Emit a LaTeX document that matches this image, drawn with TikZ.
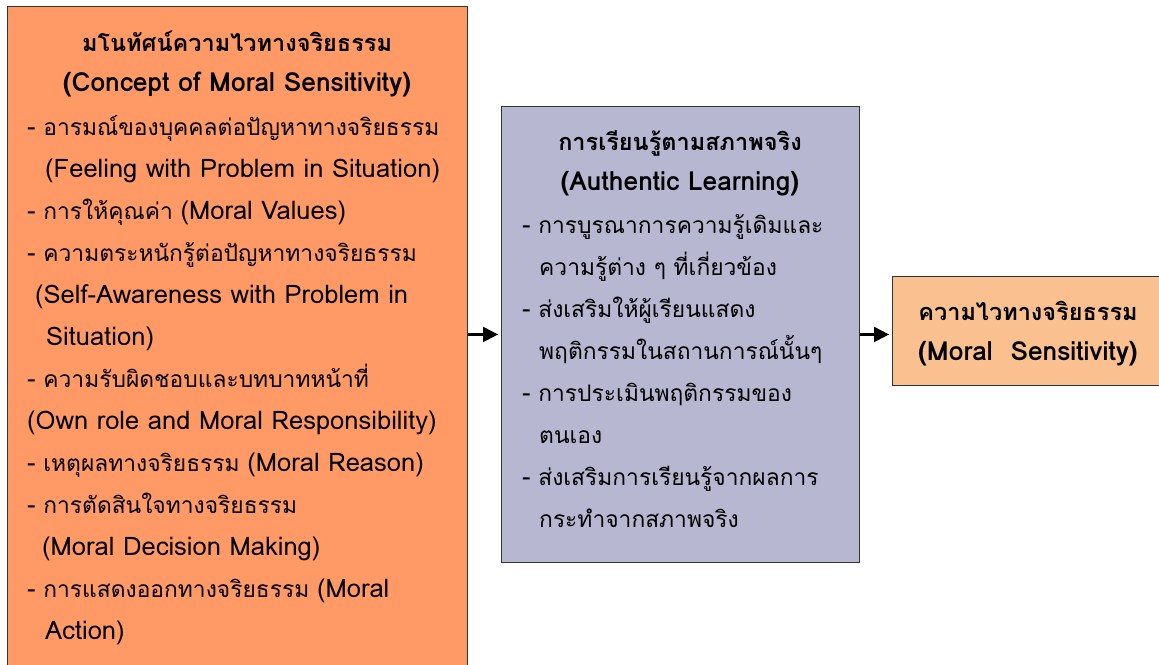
\documentclass[tikz,border=0pt]{standalone}
\usepackage{fontspec}
\setmainfont[Script=Thai]{Loma}
\newfontfamily\enfont[Scale=1.12]{Loma}
\newcommand\en[1]{{\enfont #1}}
\usetikzlibrary{positioning,arrows.meta}
\definecolor{conceptfill}{RGB}{255,153,102}
\definecolor{learnfill}{RGB}{184,183,209}
\definecolor{resultfill}{RGB}{250,192,143}
\tikzset{
  box/.style={draw=black!80, line width=0.9pt, rectangle, inner sep=0pt},
  head/.style={font=\bfseries\fontsize{23.5}{40}\selectfont, align=center, inner sep=0pt},
  body/.style={font=\fontsize{22.8}{42}\selectfont, align=left, inner sep=0pt},
  link/.style={-{Triangle[length=15pt,width=15pt]}, line width=2.2pt, shorten >=3pt}
}
\begin{document}
\begin{tikzpicture}[x=1pt, y=-1pt]
\useasboundingbox (0,0) rectangle (1159,664);
% boxes
\node[box, fill=conceptfill, minimum width=460pt, minimum height=680pt, anchor=north west] (concept) at (7,6) {};
\node[box, fill=learnfill, minimum width=358pt, minimum height=456pt, anchor=north west] (learn) at (501,106) {};
\node[box, fill=resultfill, minimum width=275pt, minimum height=109pt, anchor=north west] (result) at (892,276) {};
% texts (base anchor = last line)
\node[head, anchor=base] (concepthead) at (237,91) {มโนทัศน์ความไวทางจริยธรรม\\\en{(Concept of Moral Sensitivity)}};
\node[body, anchor=base west] (conceptbody) at (27,639) {%
\en{-} อารมณ์ของบุคคลต่อปัญหาทางจริยธรรม\\
\hspace*{18pt}\en{(Feeling with Problem in Situation)}\\
\en{-} การให้คุณค่า \en{(Moral Values)}\\
\en{-} ความตระหนักรู้ต่อปัญหาทางจริยธรรม\\
\hspace*{8pt}\en{(Self-Awareness with Problem in}\\
\hspace*{19pt}\en{Situation)}\\
\en{-} ความรับผิดชอบและบทบาทหน้าที่\\
\en{(Own role and Moral Responsibility)}\\
\en{-} เหตุผลทางจริยธรรม \en{(Moral Reason)}\\
\en{-} การตัดสินใจทางจริยธรรม\\
\hspace*{15pt}\en{(Moral Decision Making)}\\
\en{-} การแสดงออกทางจริยธรรม \en{(Moral}\\
\hspace*{18pt}\en{Action)}};
\node[head, anchor=base] (learnhead) at (680,190) {การเรียนรู้ตามสภาพจริง\\\en{(Authentic Learning)}};
\node[body, anchor=base west] (learnbody) at (522,527) {%
\en{-} การบูรณาการความรู้เดิมและ\\
\hspace*{17pt}ความรู้ต่าง ๆ ที่เกี่ยวข้อง\\
\en{-} ส่งเสริมให้ผู้เรียนแสดง\\
\hspace*{17pt}พฤติกรรมในสถานการณ์นั้นๆ\\
\en{-} การประเมินพฤติกรรมของ\\
\hspace*{17pt}ตนเอง\\
\en{-} ส่งเสริมการเรียนรู้จากผลการ\\
\hspace*{17pt}กระทำจากสภาพจริง};
\node[head, anchor=base] (resulthead) at (1028,360) {ความไวทางจริยธรรม\\\en{(Moral~~Sensitivity)}};
% arrows
\draw[link] (learn.west -| concept.east) -- (learn.west);
\draw[link] (learn.east) -- (learn.east -| result.west);
\end{tikzpicture}
\end{document}
